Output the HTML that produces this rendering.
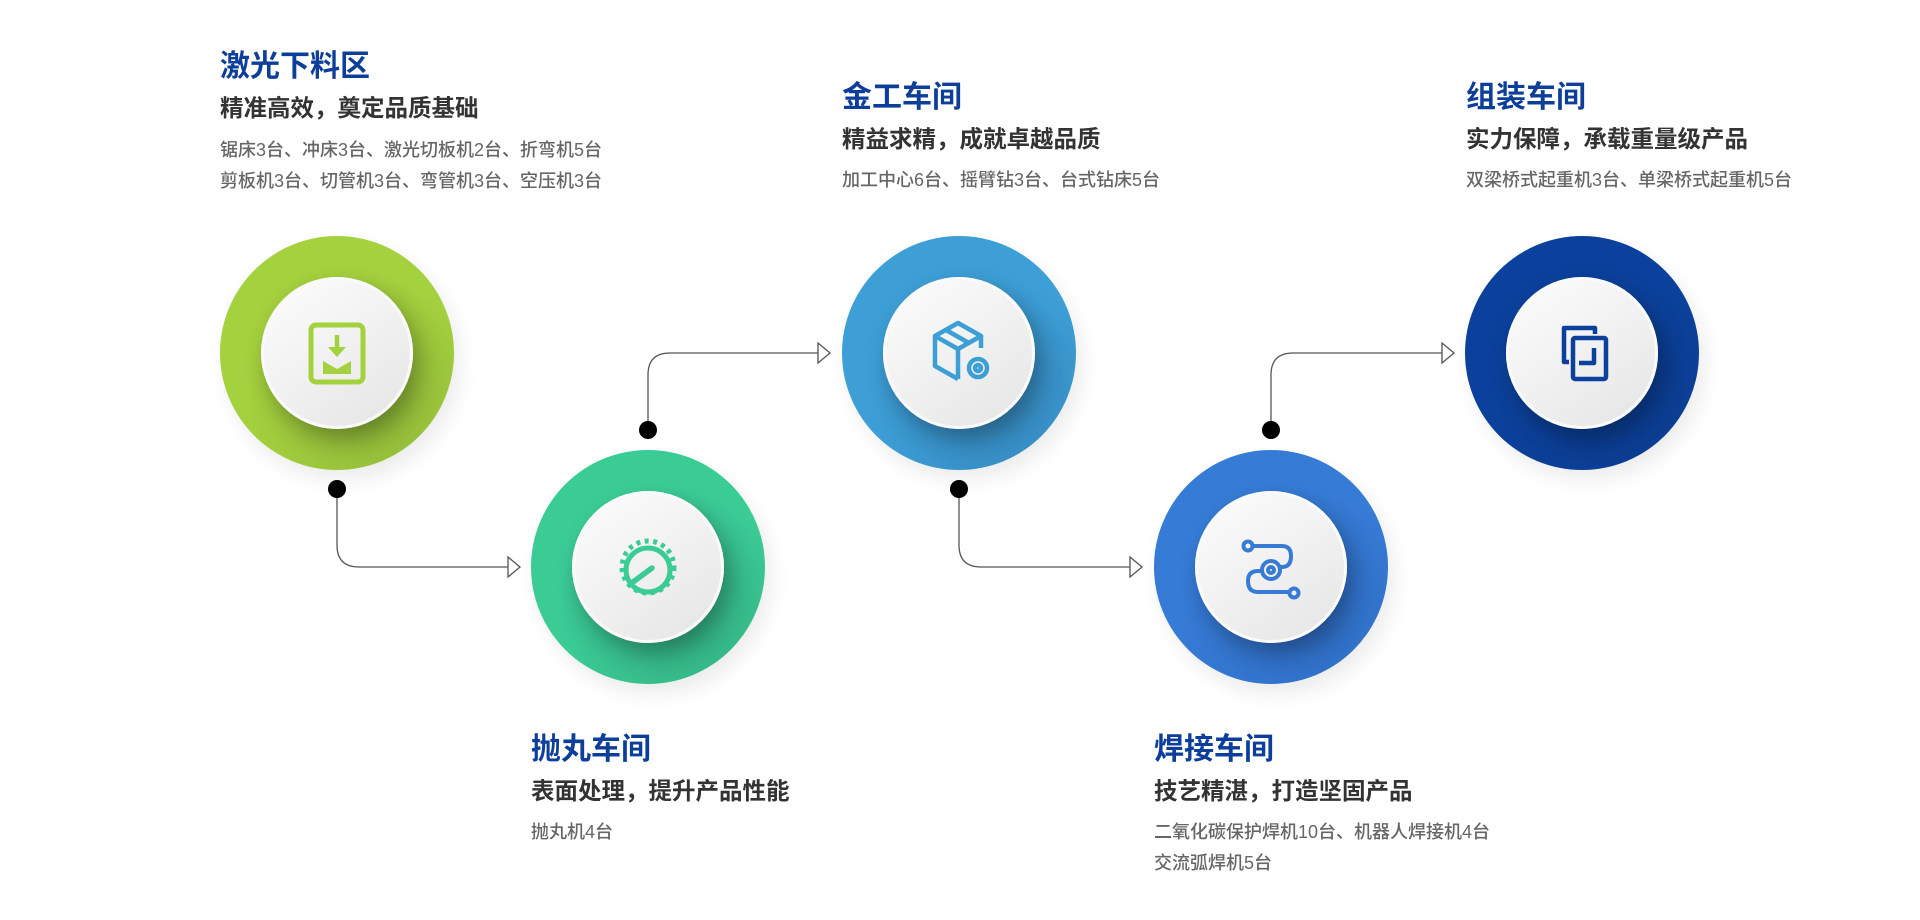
<!DOCTYPE html>
<html><head><meta charset="utf-8"><style>
html,body{margin:0;padding:0;background:#fff;}
body{width:1920px;height:920px;position:relative;overflow:hidden;font-family:"Liberation Sans","Noto Sans CJK SC",sans-serif;}
.t{position:absolute;white-space:nowrap;}
.h{font-size:30px;line-height:30px;font-weight:bold;color:#0d3f9a;}
.s{font-size:23.5px;line-height:24px;font-weight:bold;color:#333;}
.d{font-size:18px;line-height:18px;color:#666;font-weight:500;}
.c{position:absolute;width:234px;height:234px;border-radius:50%;}
.c .in{position:absolute;left:41px;top:41px;width:152px;height:152px;border-radius:50%;
background:linear-gradient(145deg,#fdfdfd 0%,#f1f1f1 50%,#e4e4e4 100%);
box-shadow:0 0 0 3px #fafafa inset, 6px 10px 22px rgba(0,0,0,0.28);}
.c svg{position:absolute;left:0;top:0;}
</style></head><body>

<div class="c" style="left:220px;top:236px;background:radial-gradient(circle at 62% 68%,#86ad36 0%,#97c03a 30%,#a4d13e 55%);box-shadow:6px 10px 20px rgba(0,0,0,0.08)"><div class="in"></div>
<svg width="234" height="234"><rect x="91" y="89" width="52" height="57" rx="5" fill="none" stroke="#a4d13e" stroke-width="5"/><line x1="117" y1="99" x2="117" y2="116" stroke="#a4d13e" stroke-width="4.5"/><path d="M108 111 L117 121 L126 111 Z" fill="#a4d13e"/><path d="M103 138 V125 L117 133 L131 125 V138 Z" fill="#a4d13e"/></svg></div>

<div class="c" style="left:531px;top:450px;background:radial-gradient(circle at 62% 68%,#30a67c 0%,#36b988 30%,#3bcc96 55%);box-shadow:6px 10px 20px rgba(0,0,0,0.08)"><div class="in"></div>
<svg width="234" height="234"><circle cx="117" cy="117" r="26" fill="none" stroke="#3bcc96" stroke-width="5" stroke-dasharray="4 4.5"/><circle cx="117" cy="120" r="22" fill="none" stroke="#3bcc96" stroke-width="5"/><line x1="102" y1="132" x2="121" y2="118" stroke="#3bcc96" stroke-width="5.5" stroke-linecap="round"/></svg></div>

<div class="c" style="left:842px;top:236px;background:radial-gradient(circle at 62% 68%,#3283b3 0%,#378fc6 30%,#3d9fd6 55%);box-shadow:6px 10px 20px rgba(0,0,0,0.08)"><div class="in"></div>
<svg width="234" height="234"><g fill="none" stroke="#3d9fd6" stroke-width="4.5" stroke-linejoin="round"><path d="M93 100 L116 87 L139 100 L116 113 Z"/><path d="M93 100 V130 L116 143"/><path d="M116 113 V143"/><path d="M139 100 V112"/><path d="M104 94 L127 107"/><circle cx="136" cy="132" r="9"/><circle cx="136" cy="132" r="3"/></g></svg></div>

<div class="c" style="left:1154px;top:450px;background:radial-gradient(circle at 62% 68%,#2c66b8 0%,#3171c9 30%,#367bd6 55%);box-shadow:6px 10px 20px rgba(0,0,0,0.08)"><div class="in"></div>
<svg width="234" height="234"><g fill="none" stroke="#367bd6" stroke-width="4"><circle cx="94" cy="96" r="4.5"/><circle cx="140" cy="143" r="4.5"/><path d="M99 96 H128 Q137 96 137 106 Q137 117 128 117 H126"/><path d="M108 121 H104 Q94 121 94 131 Q94 142 104 142 H135"/><circle cx="117" cy="120" r="9"/><circle cx="117" cy="120" r="3"/></g></svg></div>

<div class="c" style="left:1465px;top:236px;background:radial-gradient(circle at 62% 68%,#0a3a8a 0%,#0b3d92 30%,#0b419c 55%);box-shadow:6px 10px 20px rgba(0,0,0,0.08)"><div class="in"></div>
<svg width="234" height="234"><g fill="none" stroke="#0b419c" stroke-width="4.5" stroke-linejoin="round"><path d="M104 126 H99 V92 H130 V98"/><rect x="108" y="102" width="33" height="41" rx="2"/><path d="M129 112 V127 H114"/></g></svg></div>

<svg width="1920" height="920" style="position:absolute;left:0;top:0">
<g fill="none" stroke="#555" stroke-width="1.3">
<path d="M337 489 V545 Q337 567 359 567 H508"/>
<path d="M648 430 V375 Q648 353 670 353 H818"/>
<path d="M959 489 V545 Q959 567 981 567 H1130"/>
<path d="M1271 430 V375 Q1271 353 1293 353 H1442"/>
<path d="M508 557 L520 567 L508 577 Z" fill="#fff"/>
<path d="M818 343 L830 353 L818 363 Z" fill="#fff"/>
<path d="M1130 557 L1142 567 L1130 577 Z" fill="#fff"/>
<path d="M1442 343 L1454 353 L1442 363 Z" fill="#fff"/>
</g>
<g fill="#000"><circle cx="337" cy="489" r="9"/><circle cx="648" cy="430" r="9"/><circle cx="959" cy="489" r="9"/><circle cx="1271" cy="430" r="9"/></g>
</svg>

<div class="t h" style="left:220px;top:52px">激光下料区</div>
<div class="t s" style="left:220px;top:96px">精准高效，奠定品质基础</div>
<div class="t d" style="left:220px;top:141px">锯床3台、冲床3台、激光切板机2台、折弯机5台</div>
<div class="t d" style="left:220px;top:172px">剪板机3台、切管机3台、弯管机3台、空压机3台</div>

<div class="t h" style="left:531px;top:735px">抛丸车间</div>
<div class="t s" style="left:531px;top:779px">表面处理，提升产品性能</div>
<div class="t d" style="left:531px;top:823px">抛丸机4台</div>

<div class="t h" style="left:842px;top:83px">金工车间</div>
<div class="t s" style="left:842px;top:127px">精益求精，成就卓越品质</div>
<div class="t d" style="left:842px;top:171px">加工中心6台、摇臂钻3台、台式钻床5台</div>

<div class="t h" style="left:1154px;top:735px">焊接车间</div>
<div class="t s" style="left:1154px;top:779px">技艺精湛，打造坚固产品</div>
<div class="t d" style="left:1154px;top:823px">二氧化碳保护焊机10台、机器人焊接机4台</div>
<div class="t d" style="left:1154px;top:854px">交流弧焊机5台</div>

<div class="t h" style="left:1466px;top:83px">组装车间</div>
<div class="t s" style="left:1466px;top:127px">实力保障，承载重量级产品</div>
<div class="t d" style="left:1466px;top:171px">双梁桥式起重机3台、单梁桥式起重机5台</div>
</body></html>
